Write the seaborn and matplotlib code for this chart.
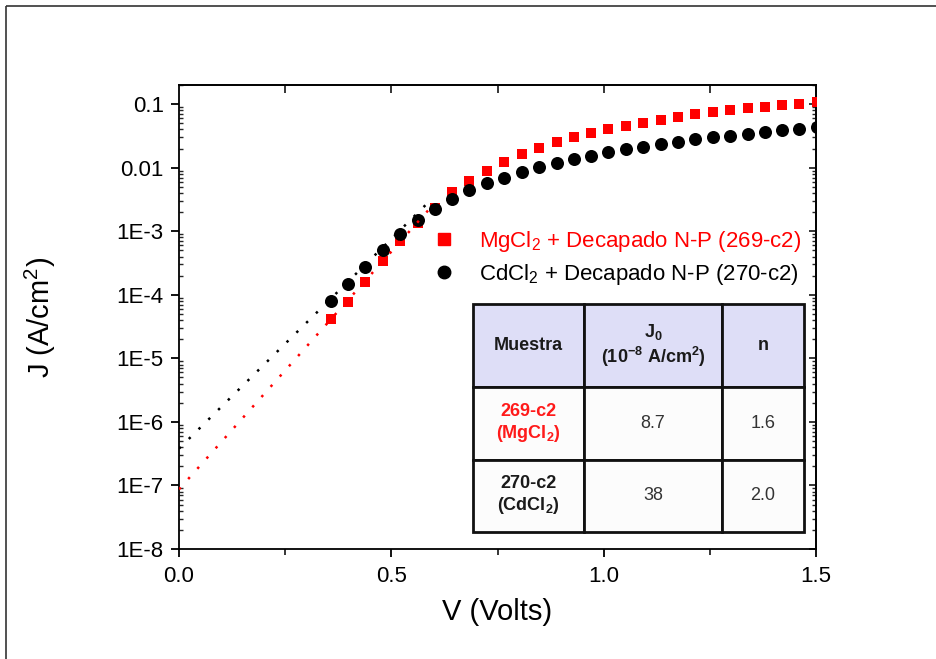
import numpy as np
import pandas as pd
import matplotlib
matplotlib.use("Agg")
import matplotlib.pyplot as plt
import seaborn as sns
from matplotlib.ticker import FixedLocator, LogLocator, NullFormatter, FixedFormatter
from matplotlib.lines import Line2D

# ---- measured J-V data -------------------------------------------------
voltage = [0.357, 0.398, 0.439, 0.480, 0.521, 0.562, 0.602, 0.643, 0.684, 0.725,
           0.766, 0.807, 0.848, 0.889, 0.930, 0.971, 1.011, 1.052, 1.093, 1.134,
           1.175, 1.216, 1.257, 1.298, 1.339, 1.380, 1.420, 1.461, 1.502]

j_mgcl2 = [4.1e-5, 7.6e-5, 1.57e-4, 3.43e-4, 7.07e-4, 1.36e-3, 2.34e-3, 4.2e-3, 6.2e-3, 8.9e-3,
           1.24e-2, 1.63e-2, 2.01e-2, 2.50e-2, 2.99e-2, 3.54e-2, 4.0e-2, 4.56e-2, 5.0e-2, 5.66e-2,
           6.25e-2, 6.89e-2, 7.40e-2, 7.96e-2, 8.56e-2, 9.07e-2, 9.64e-2, 0.101, 0.109]

j_cdcl2 = [8.05e-5, 1.46e-4, 2.73e-4, 5.05e-4, 9.12e-4, 1.48e-3, 2.25e-3, 3.25e-3, 4.43e-3, 5.65e-3,
           6.93e-3, 8.43e-3, 1.01e-2, 1.19e-2, 1.35e-2, 1.54e-2, 1.74e-2, 1.94e-2, 2.13e-2, 2.32e-2,
           2.55e-2, 2.78e-2, 3.03e-2, 3.17e-2, 3.41e-2, 3.67e-2, 3.90e-2, 4.09e-2, 4.30e-2]

legend_labels = ["MgCl$_2$ + Decapado N-P (269-c2)",
                 "CdCl$_2$ + Decapado N-P (270-c2)"]

# ---- diode fit parameters (table) --------------------------------------
table_header = ["Muestra", "J$_0$\n(10$^{-8}$ A/cm$^2$)", "n"]
sample_names = ["269-c2\n(MgCl$_2$)", "270-c2\n(CdCl$_2$)"]
j0_values = [8.7, 38]          # units of 1e-8 A/cm2
n_values = [1.6, 2.0]
fit_slopes = [7.48, 6.6]       # decades per volt of the exponential region
fit_range = [0.0, 0.59]

# ---- axis ticks --------------------------------------------------------
x_ticks = [0.0, 0.5, 1.0, 1.5]
x_ticklabels = ["0.0", "0.5", "1.0", "1.5"]
y_ticks = [1e-8, 1e-7, 1e-6, 1e-5, 1e-4, 1e-3, 1e-2, 1e-1]
y_ticklabels = ["1E-8", "1E-7", "1E-6", "1E-5", "1E-4", "1E-3", "0.01", "0.1"]

sns.set_theme(style="ticks")
plt.rcParams["font.family"] = ["Liberation Sans", "DejaVu Sans"]
plt.rcParams["mathtext.fontset"] = "custom"
plt.rcParams["mathtext.rm"] = "Liberation Sans"
plt.rcParams["mathtext.it"] = "Liberation Sans:italic"
plt.rcParams["mathtext.bf"] = "Liberation Sans:bold"
plt.rcParams["mathtext.default"] = "regular"

fig = plt.figure(figsize=(9.36, 6.59), dpi=100)
fig.patch.set_facecolor("white")
ax = fig.add_axes([179 / 936, 1 - 549 / 659, 637 / 936, 464 / 659])
ax.set_facecolor("white")

data = pd.DataFrame({"V": voltage, "MgCl2": j_mgcl2, "CdCl2": j_cdcl2})

sns.scatterplot(data=data, x="V", y="MgCl2", marker="s", color="#ff0000",
                s=62, linewidth=0, ax=ax, zorder=3, clip_on=True)
sns.scatterplot(data=data, x="V", y="CdCl2", marker="o", color="black",
                s=88, linewidth=0, ax=ax, zorder=4, clip_on=True)

# exponential fit lines J = J0 * 10^(slope * V)
fit_v = np.array(fit_range)
for j0, slope, col in zip(j0_values, fit_slopes, ["#ff0000", "black"]):
    fit_j = j0 * 1e-8 * 10 ** (slope * fit_v)
    sns.lineplot(x=fit_v, y=fit_j, color=col, ax=ax, lw=1.8,
                 linestyle=(0, (1, 4.5)), zorder=5)

ax.set_yscale("log")
ax.set_xlim(0.0, 1.5)
ax.set_ylim(1e-8, 0.2)

ax.xaxis.set_major_locator(FixedLocator(x_ticks))
ax.xaxis.set_major_formatter(FixedFormatter(x_ticklabels))
ax.xaxis.set_minor_locator(FixedLocator([0.25, 0.75, 1.25]))
ax.yaxis.set_major_locator(FixedLocator(y_ticks))
ax.yaxis.set_major_formatter(FixedFormatter(y_ticklabels))
ax.yaxis.set_minor_locator(LogLocator(base=10, subs=np.arange(2, 10), numticks=20))
ax.yaxis.set_minor_formatter(NullFormatter())

for s in ax.spines.values():
    s.set_visible(True)
    s.set_linewidth(1.3)
    s.set_color("black")

ax.tick_params(axis="x", which="major", direction="out", length=6, width=1.3,
               labelsize=16, pad=6, top=False, colors="black")
ax.tick_params(axis="x", which="minor", direction="out", length=4, width=1.3,
               top=False)
ax.tick_params(axis="y", which="major", direction="out", length=6, width=1.3,
               labelsize=16, pad=5, right=False, colors="black")
ax.tick_params(axis="y", which="minor", direction="in", length=3, width=1.0,
               right=False)

# inward ticks along the top and right edges
sec_x = ax.secondary_xaxis("top")
sec_x.xaxis.set_major_locator(FixedLocator([0.25, 0.5, 0.75, 1.0, 1.25]))
sec_x.tick_params(axis="x", which="major", direction="in", length=6, width=1.3,
                  labeltop=False)
sec_x.spines["top"].set_linewidth(1.3)
sec_y = ax.secondary_yaxis("right")
sec_y.yaxis.set_major_locator(FixedLocator(y_ticks))
sec_y.yaxis.set_minor_locator(LogLocator(base=10, subs=np.arange(2, 10), numticks=20))
sec_y.yaxis.set_minor_formatter(NullFormatter())
sec_y.tick_params(axis="y", which="major", direction="in", length=5, width=1.3,
                  labelright=False)
sec_y.tick_params(axis="y", which="minor", direction="in", length=3, width=1.0)
sec_y.spines["right"].set_linewidth(1.3)

ax.set_xlabel("V (Volts)", fontsize=21, color="black")
ax.set_ylabel("J (A/cm$^2$)", fontsize=21, color="black")
ax.xaxis.set_label_coords(0.5, -0.105)
ax.yaxis.set_label_coords(-0.19, 0.5)

# legend
handles = [
    Line2D([], [], marker="s", color="#ff0000", linestyle="none", markersize=8),
    Line2D([], [], marker="o", color="black", linestyle="none", markersize=9),
]
leg = ax.legend(handles, legend_labels, loc="upper left",
                bbox_to_anchor=(433 / 936, 1 - 229 / 659),
                bbox_transform=fig.transFigure, frameon=False, fontsize=16,
                handlelength=1.0, handletextpad=1.05, labelspacing=0.35,
                borderpad=0, borderaxespad=0)
leg.get_texts()[0].set_color("#ff0000")
leg.get_texts()[1].set_color("black")

# parameter table
cell_text = [[name, f"{j0:g}", f"{n:.1f}"]
             for name, j0, n in zip(sample_names, j0_values, n_values)]
x0 = (473 - 179) / 637
x1 = (804 - 179) / 637
y_top = 1 - (304 - 85) / 464
y_bot = 1 - (532 - 85) / 464
tbl = ax.table(cellText=cell_text, colLabels=table_header, cellLoc="center",
               colWidths=[111, 138, 82],
               bbox=[x0, y_bot, x1 - x0, y_top - y_bot], zorder=6)
tbl.auto_set_font_size(False)
tbl.set_fontsize(13)
row_h = [83, 73, 72]
tot_h = sum(row_h)
for (r, c), cell in tbl.get_celld().items():
    cell.set_linewidth(2.0)
    cell.set_edgecolor("#111111")
    cell.set_height((y_top - y_bot) * row_h[r] / tot_h)
    if r == 0:
        cell.set_facecolor("#dedef7")
        cell.get_text().set_fontweight("bold")
        cell.get_text().set_color("#1a1a1a")
    else:
        cell.set_facecolor("#fcfcfc")
        if c == 0:
            cell.get_text().set_fontweight("bold")
            cell.get_text().set_color("#ff1a1a" if r == 1 else "#1a1a1a")
        else:
            cell.get_text().set_color("#333333")

# outer frame of the figure (top and left edges)
fig.add_artist(Line2D([6 / 936, 1.0], [1 - 6 / 659, 1 - 6 / 659],
                      transform=fig.transFigure, color="#333333", lw=1.2,
                      solid_capstyle="butt"))
fig.add_artist(Line2D([6 / 936, 6 / 936], [0, 1 - 6 / 659],
                      transform=fig.transFigure, color="#333333", lw=1.2,
                      solid_capstyle="butt"))

fig.savefig("out.png", dpi=100, facecolor="white")
